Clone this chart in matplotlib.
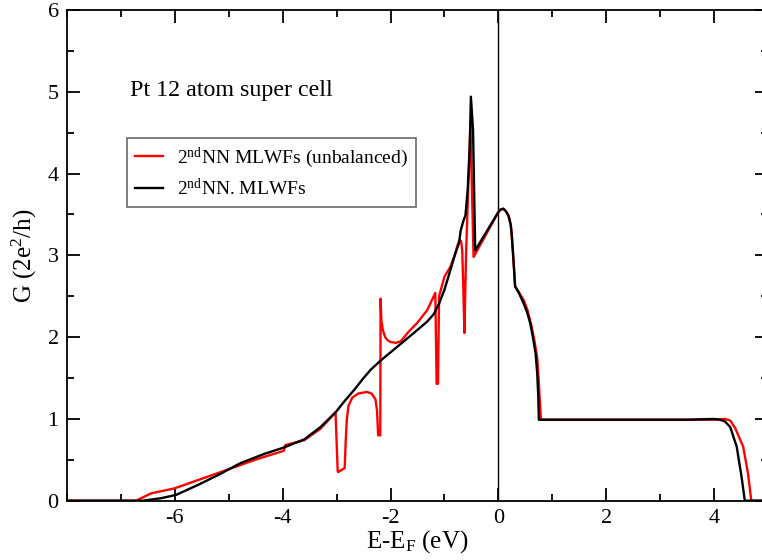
import numpy as np
import matplotlib
matplotlib.use("Agg")
import matplotlib.pyplot as plt
from matplotlib.ticker import MultipleLocator

plt.rcParams['font.family'] = ['Liberation Serif', 'DejaVu Serif']
plt.rcParams['mathtext.fontset'] = 'custom'
plt.rcParams['mathtext.rm'] = 'Liberation Serif'
plt.rcParams['mathtext.it'] = 'Liberation Serif:italic'
plt.rcParams['axes.unicode_minus'] = False

# values
black_x = [-8, -6.6, -6.26, -5.98, -5.58, -5.21, -4.78, -4.35, -3.98, -3.6, -3.30,
           -3.02, -2.85, -2.68, -2.50, -2.37, -2.19, -1.88, -1.57, -1.32, -1.20,
           -1.10, -1.0, -0.89, -0.80, -0.73, -0.70, -0.65, -0.61, -0.57, -0.53,
           -0.51, -0.47, -0.43, 0.0, 0.04, 0.09, 0.14, 0.19, 0.23, 0.25, 0.28,
           0.31, 0.38, 0.47, 0.53, 0.59, 0.64, 0.69, 0.72, 0.74, 0.75, 2.0, 3.5,
           4.0, 4.11, 4.20, 4.30, 4.42, 4.51, 4.57, 5.0]
black_y = [0, 0, 0.03, 0.07, 0.19, 0.31, 0.46, 0.57, 0.65, 0.75, 0.90,
           1.08, 1.22, 1.35, 1.50, 1.60, 1.71, 1.88, 2.05, 2.19, 2.28,
           2.41, 2.58, 2.82, 3.02, 3.15, 3.30, 3.42, 3.49, 3.80, 4.33,
           4.94, 4.53, 3.06, 3.53, 3.56, 3.57, 3.54, 3.48, 3.37, 3.23, 2.94,
           2.62, 2.54, 2.41, 2.31, 2.17, 2.00, 1.80, 1.56, 1.27, 0.99, 0.99, 0.99,
           1.0, 0.99, 0.97, 0.90, 0.66, 0.29, 0.0, 0.0]

red_x = [-8, -6.72, -6.44, -6.01, -5.58, -5.02, -4.47, -3.98, -3.95, -3.6, -3.30,
         -3.02, -2.98, -2.97, -2.85, -2.83, -2.81, -2.78, -2.71, -2.60, -2.44,
         -2.35, -2.28, -2.25, -2.24, -2.23, -2.19, -2.185, -2.17, -2.14, -2.10,
         -2.05, -2.0, -1.90, -1.81, -1.66, -1.51, -1.32, -1.17, -1.145, -1.12,
         -1.10, -1.0, -0.89, -0.80, -0.76, -0.72, -0.69, -0.67, -0.65, -0.63,
         -0.60, -0.55, -0.52, -0.49, -0.46, 0.0, 0.04, 0.09, 0.14, 0.19, 0.23,
         0.25, 0.28, 0.31, 0.38, 0.47, 0.54, 0.61, 0.67, 0.72, 0.75, 0.77, 0.79,
         2.0, 4.0, 4.20, 4.30, 4.39, 4.54, 4.63, 4.69, 5.0]
red_y = [0, 0, 0.09, 0.15, 0.25, 0.38, 0.51, 0.61, 0.68, 0.74, 0.88,
         1.08, 0.36, 0.35, 0.40, 0.75, 1.00, 1.16, 1.26, 1.31, 1.33,
         1.31, 1.24, 1.10, 0.95, 0.80, 0.80, 2.47, 2.20, 2.08, 2.00,
         1.96, 1.94, 1.93, 1.95, 2.07, 2.17, 2.33, 2.54, 1.43, 1.43,
         2.50, 2.74, 2.86, 3.02, 3.12, 3.19, 3.17, 3.05, 2.60, 2.05,
         3.00, 4.00, 4.61, 3.80, 2.98, 3.53, 3.56, 3.57, 3.54, 3.48, 3.37,
         3.23, 2.94, 2.62, 2.55, 2.45, 2.33, 2.15, 1.95, 1.75, 1.45, 1.20, 0.99,
         0.99, 0.99, 1.0, 0.98, 0.89, 0.66, 0.33, 0.0, 0.0]

x_ticks = [-6, -4, -2, 0, 2, 4]
y_ticks = [0, 1, 2, 3, 4, 5, 6]

fig = plt.figure(figsize=(7.62, 5.6), dpi=100)
ax = fig.add_axes([67 / 762, 59.3 / 560, 701 / 762, 490.7 / 560])

ax.axvline(0, color='black', linewidth=1.0)
ax.plot(red_x, red_y, color='#ff0000', linewidth=1.7,
        label=r'2$^{\rm nd}$NN MLWFs (unbalanced)')
ax.plot(black_x, black_y, color='black', linewidth=1.7,
        label=r'2$^{\rm nd}$NN. MLWFs')

ax.set_xlim(-8, 5)
ax.set_ylim(0, 6)
ax.set_xticks(x_ticks)
ax.set_yticks(y_ticks)
ax.xaxis.set_minor_locator(MultipleLocator(1))
ax.yaxis.set_minor_locator(MultipleLocator(0.5))
ax.tick_params(which='both', direction='in', top=True, right=True,
               labelsize=16, width=1.3)
ax.tick_params(which='major', length=9.5, pad=6)
ax.tick_params(which='minor', length=5)
for s in ax.spines.values():
    s.set_linewidth(1.3)

ax.set_xlabel(r'E-E$_{\rm F}$ (eV)', fontsize=18, labelpad=0)
ax.set_ylabel(r'G (2e$^{2}$/h)', fontsize=18, labelpad=6)

ax.text(0.09, 0.825, 'Pt 12 atom super cell', transform=ax.transAxes,
        fontsize=17.3)

leg = ax.legend(loc='upper left', bbox_to_anchor=(0.0856, 0.739),
                borderaxespad=0, fontsize=14, fancybox=False,
                handlelength=1.45, handletextpad=0.72, borderpad=0.4,
                labelspacing=0.4)
leg.get_frame().set_edgecolor('#444444')
leg.get_frame().set_linewidth(1.2)

fig.savefig('out.png', dpi=100)
